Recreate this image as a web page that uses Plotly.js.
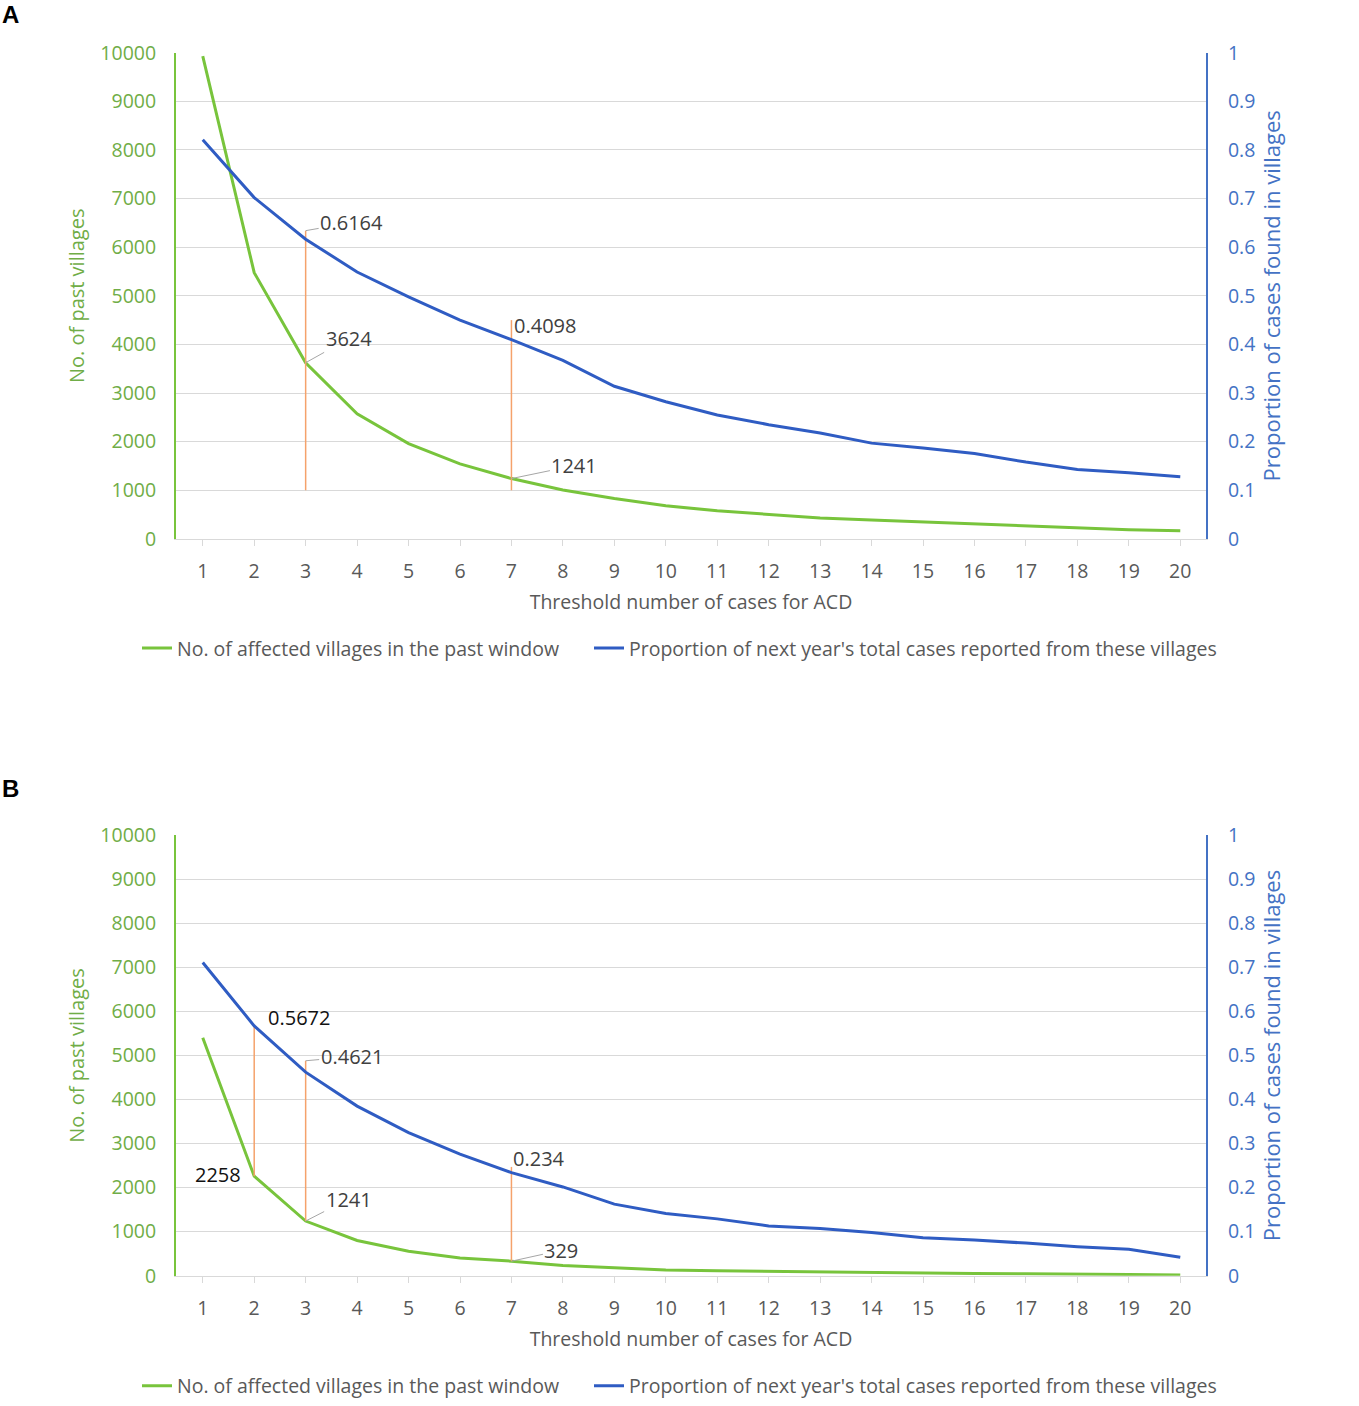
<!DOCTYPE html>
<html>
<head>
<meta charset="utf-8">
<script src="https://cdn.plot.ly/plotly-3.0.1.min.js"></script>
<style>
  html, body { margin: 0; padding: 0; background: white; width: 1359px; height: 1406px; overflow: hidden; }
  #chart { width: 1359px; height: 1406px; overflow: hidden; }
</style>
</head>
<body>
<div id="chart"></div>
<script>
// threshold number of cases (x axis)
var thresholds = [1, 2, 3, 4, 5, 6, 7, 8, 9, 10, 11, 12, 13, 14, 15, 16, 17, 18, 19, 20];

// panel A
var villagesA = [9930, 5476, 3624, 2571, 1959, 1544, 1241, 1007, 830, 680, 578, 497, 430, 388, 347, 306, 265, 218, 190, 170];
var proportionA = [0.821, 0.702, 0.6164, 0.549, 0.498, 0.450, 0.4098, 0.367, 0.314, 0.282, 0.255, 0.235, 0.218, 0.197, 0.187, 0.1755, 0.158, 0.143, 0.136, 0.128];
var markerXA = [3, 7];
var markerLowA = [1000, 1000];      // left axis units
var markerHighA = [0.634, 0.45];    // right axis units

// panel B
var villagesB = [5400, 2258, 1241, 800, 554, 404, 329, 232, 180, 127, 110, 98, 80, 75, 50, 48, 45, 42, 28, 18];
var proportionB = [0.711, 0.5672, 0.4621, 0.385, 0.325, 0.276, 0.234, 0.2015, 0.1625, 0.141, 0.129, 0.113, 0.107, 0.098, 0.086, 0.081, 0.074, 0.066, 0.060, 0.042];
var markerXB = [2, 3, 7];
var markerLowB = [2258, 1241, 329];
var markerHighB = [0.5672, 0.488, 0.247];

var villagesName = 'No. of affected villages in the past window';
var proportionName = "Proportion of next year's total cases reported from these villages";

var green = '#78c43c';
var greenText = '#70ad47';
var blue = '#2f5cc3';
var blueText = '#4472c4';
var orange = '#f5a26b';
var gray = '#595959';
var grid = '#d9d9d9';
var font = 'Open Sans, Liberation Sans, sans-serif';

// left axis 0-10000 sits on right axis 0-1
var axisRatio = 1 / 10000;

function markerTraces(xs, lows, highs, xaxis, yaxis) {
    var out = [];
    for (var i = 0; i < xs.length; i++) {
        out.push({
            x: [xs[i], xs[i]],
            y: [lows[i] * axisRatio, highs[i]],
            xaxis: xaxis, yaxis: yaxis,
            mode: 'lines', type: 'scatter',
            line: {color: orange, width: 1.5},
            showlegend: false, hoverinfo: 'skip'
        });
    }
    return out;
}

var data = [];
data = data.concat(markerTraces(markerXA, markerLowA, markerHighA, 'x', 'y2'));
data = data.concat(markerTraces(markerXB, markerLowB, markerHighB, 'x2', 'y4'));
data.push(
    {x: thresholds, y: villagesA, xaxis: 'x', yaxis: 'y', mode: 'lines', type: 'scatter',
     line: {color: green, width: 3}, name: villagesName, legend: 'legend'},
    {x: thresholds, y: proportionA, xaxis: 'x', yaxis: 'y2', mode: 'lines', type: 'scatter',
     line: {color: blue, width: 3}, name: proportionName, legend: 'legend2'},
    {x: thresholds, y: villagesB, xaxis: 'x2', yaxis: 'y3', mode: 'lines', type: 'scatter',
     line: {color: green, width: 3}, name: villagesName, legend: 'legend3'},
    {x: thresholds, y: proportionB, xaxis: 'x2', yaxis: 'y4', mode: 'lines', type: 'scatter',
     line: {color: blue, width: 3}, name: proportionName, legend: 'legend4'}
);

function xAxis(anchor, domain) {
    return {
        anchor: anchor, domain: domain,
        range: [0.48, 20.5],
        tickvals: thresholds,
        ticks: 'outside', ticklen: 6, tickcolor: grid,
        showline: true, linecolor: grid, linewidth: 1,
        showgrid: false, zeroline: false,
        ticklabelstandoff: 9,
        tickfont: {family: font, size: 19.5, color: gray},
        title: {text: 'Threshold number of cases for ACD', font: {family: font, size: 19.5, color: gray}, standoff: 12}
    };
}

function leftAxis(anchor, domain) {
    return {
        anchor: anchor, domain: domain,
        range: [0, 10000], dtick: 1000, tickformat: 'd',
        showgrid: true, gridcolor: grid, gridwidth: 1,
        showline: true, linecolor: green, linewidth: 2,
        zeroline: false, ticks: '', ticklabelstandoff: 14,
        tickfont: {family: font, size: 19.5, color: greenText},
        title: {text: 'No. of past villages', font: {family: font, size: 20, color: greenText}, standoff: 10}
    };
}

function rightAxis(anchor, over, domain) {
    return {
        anchor: anchor, overlaying: over, side: 'right', domain: domain,
        range: [0, 1], dtick: 0.1,
        showgrid: false,
        showline: true, linecolor: blueText, linewidth: 2,
        zeroline: false, ticks: '', ticklabelstandoff: 16,
        tickfont: {family: font, size: 19.5, color: blueText},
        title: {text: 'Proportion of cases found in villages', font: {family: font, size: 22, color: blueText}, standoff: 10}
    };
}

// pixel rows measured on the reference
var H = 1406;
function py(pix) { return 1 - pix / H; }
var domX = [176 / 1359, 1206 / 1359];
var domYA = [py(542), py(53)];
var domYB = [py(1283), py(840)];

function label(text, x, y, xref, yref, opts) {
    var a = {
        text: text, x: x, y: y, xref: xref, yref: yref,
        font: {family: font, size: 20, color: opts.color || '#404040'},
        showarrow: false
    };
    if (opts.ax !== undefined) {
        a.showarrow = true;
        a.arrowhead = 0;
        a.arrowwidth = 1;
        a.arrowcolor = '#a6a6a6';
        a.ax = opts.ax;
        a.ay = opts.ay;
        a.standoff = 0;
    } else {
        a.xshift = opts.xshift || 0;
        a.yshift = opts.yshift || 0;
    }
    return a;
}

var annotations = [
    // panel A
    label(String(proportionA[2]), 3, markerHighA[0], 'x', 'y2', {ax: 46, ay: -8}),
    label(String(villagesA[2]), 3, villagesA[2], 'x', 'y', {ax: 43, ay: -24}),
    label(String(proportionA[6]), 7, proportionA[6], 'x', 'y2', {xshift: 34, yshift: 14}),
    label(String(villagesA[6]), 7, villagesA[6], 'x', 'y', {ax: 63, ay: -13}),
    // panel B
    label(String(proportionB[1]), 2, proportionB[1], 'x2', 'y4', {xshift: 45, yshift: 8, color: '#111111'}),
    label(String(proportionB[2]), 3, markerHighB[1], 'x2', 'y4', {ax: 46, ay: -4}),
    label(String(villagesB[1]), 2, villagesB[1], 'x2', 'y3', {xshift: -36, yshift: 2, color: '#111111'}),
    label(String(villagesB[2]), 3, villagesB[2], 'x2', 'y3', {ax: 43, ay: -22}),
    label(String(proportionB[6]), 7, proportionB[6], 'x2', 'y4', {xshift: 28, yshift: 14}),
    label(String(villagesB[6]), 7, villagesB[6], 'x2', 'y3', {ax: 50, ay: -11}),
    // panel letters
    {text: '<b>A</b>', x: 0, y: py(15), xref: 'paper', yref: 'paper', xanchor: 'left', yanchor: 'middle',
     showarrow: false, font: {family: 'Liberation Sans, Arial', size: 24, color: '#000'}},
    {text: '<b>B</b>', x: 0, y: py(793), xref: 'paper', yref: 'paper', xanchor: 'left', yanchor: 'middle',
     showarrow: false, font: {family: 'Liberation Sans, Arial', size: 24, color: '#000'}}
];

function legendAt(xpix, ypix) {
    return {
        orientation: 'h',
        x: xpix / 1359, xanchor: 'left',
        y: py(ypix), yanchor: 'middle',
        itemwidth: 30,
        font: {family: font, size: 19.5, color: gray},
        bgcolor: 'rgba(0,0,0,0)'
    };
}

var layout = {
    width: 1359, height: 1406,
    margin: {l: 0, r: 0, t: 0, b: 0},
    paper_bgcolor: 'white', plot_bgcolor: 'white',
    xaxis: xAxis('y', domX),
    yaxis: leftAxis('x', domYA),
    yaxis2: rightAxis('x', 'y', domYA),
    xaxis2: xAxis('y3', domX),
    yaxis3: leftAxis('x2', domYB),
    yaxis4: rightAxis('x2', 'y3', domYB),
    legend: legendAt(137, 652),
    legend2: legendAt(589, 652),
    legend3: legendAt(137, 1394),
    legend4: legendAt(589, 1394),
    annotations: annotations,
    showlegend: true
};

Plotly.newPlot(document.getElementById('chart'), data, layout, {staticPlot: true});
</script>
</body>
</html>
